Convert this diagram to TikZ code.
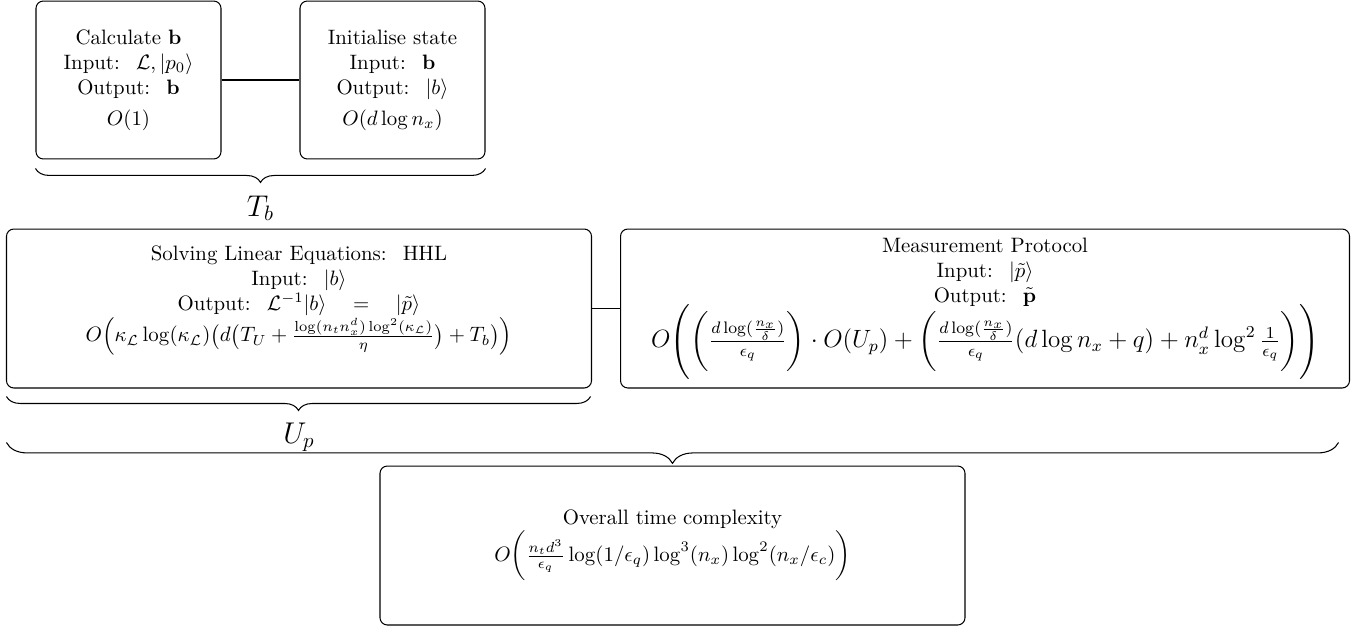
\documentclass[tikz,border=0pt]{standalone}
\usepackage{amsmath}
\usetikzlibrary{calc,decorations.pathreplacing}

\tikzset{
  stage/.style={draw, rounded corners=3.5pt, align=center, inner sep=2pt, line width=0.5pt},
  smallstage/.style={stage, minimum width=88.8pt, minimum height=75.8pt},
  widestage/.style={stage, minimum width=280.8pt, minimum height=76.3pt},
  link/.style={line width=0.5pt},
  bracedown/.style={decorate, line width=0.5pt, decoration={brace, mirror, amplitude=#1}},
  bracelabel/.style={font=\Large}
}

\begin{document}
\begin{tikzpicture}[x=0.48pt, y=-0.48pt]
  \useasboundingbox (0,0) rectangle (1356,628);

  % preparation of the right-hand side
  \node[smallstage] (calc) at (128.5,80)
    {Calculate $\mathbf{b}$\\ Input: \ $\mathcal{L}, |p_0\rangle$\\ Output: \ $\mathbf{b}$\\[3pt] $O(1)$};
  \node[smallstage] (init) at (392.5,80)
    {Initialise state\\ Input: \ $\mathbf{b}$\\ Output: \ $|b\rangle$\\[3pt] $O(d\log n_x)$};
  \draw[link] (calc.east) -- (init.west);

  % linear solver and measurement
  \node[widestage] (hhl) at (299,308.5)
    {Solving Linear Equations: \ HHL\\
     Input: \ $|b\rangle$\\
     Output: \ $\mathcal{L}^{-1}|b\rangle\quad=\quad|\tilde{p}\rangle$\\
     $O\Bigl(\kappa_{\mathcal{L}}\log(\kappa_{\mathcal{L}})\bigl(d\bigl(T_U+\frac{\log(n_tn_x^d)\log^2(\kappa_{\mathcal{L}})}{\eta}\bigr)+T_b\bigr)\Bigr)$\\[2pt]
     \mbox{}};
  \node[stage, minimum width=349.9pt, minimum height=76.3pt] (meas) at (985,308.5)
    {Measurement Protocol\\
     Input: \ $|\tilde{p}\rangle$\\
     Output: \ $\tilde{\mathbf{p}}$\\[-2pt]
     {\large $O\Biggl(\biggl(\frac{d\log(\frac{n_x}{\delta})}{\epsilon_q}\biggr)\cdot O(U_p)+\biggl(\frac{d\log(\frac{n_x}{\delta})}{\epsilon_q}(d\log n_x+q)+n_x^d\log^2\frac{1}{\epsilon_q}\biggr)\Biggr)$}};
  \draw[link] (hhl.east) -- (meas.west);

  % total cost
  \node[widestage] (total) at (672.5,545.5)
    {Overall time complexity\\
     $O\biggl(\frac{n_td^3}{\epsilon_q}\log(1/\epsilon_q)\log^3(n_x)\log^2(n_x/\epsilon_c)\biggr)$};

  % braces grouping the costs
  \coordinate (tbL) at ($(calc.south west)+(0,9)$);
  \coordinate (tbR) at ($(init.south east)+(0,9)$);
  \draw[bracedown=6.7pt] (tbL) -- (tbR);
  \node[bracelabel] (tb) at ($(calc.south west)!0.5!(init.south east)+(0,49)$) {$T_b$};

  \coordinate (upL) at ($(hhl.south west)+(0.5,8)$);
  \coordinate (upR) at ($(hhl.south east)+(-1.5,8)$);
  \draw[bracedown=6.7pt] (upL) -- (upR);
  \node[bracelabel] (up) at ($(hhl.south)+(0,49)$) {$U_p$};

  \coordinate (allL) at ($(hhl.south west)+(0.5,54)$);
  \coordinate (allR) at ($(meas.south east)+(-11.5,54)$);
  \draw[bracedown=10pt] (allL) -- (allR);
\end{tikzpicture}
\end{document}
